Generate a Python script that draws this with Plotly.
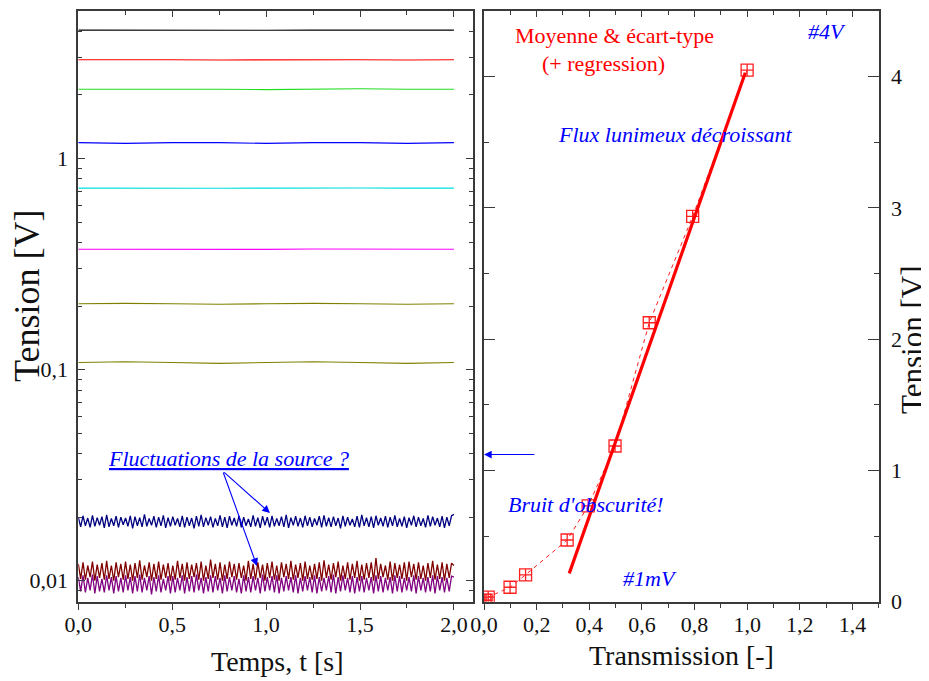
import numpy as np
import plotly.graph_objects as go

# ---------------- data ----------------
# left panel: recorded signals (V) versus time (s)
t_coarse = [0.0, 0.25, 0.5, 0.75, 1.0, 1.25, 1.5, 1.75, 2.0]
sig_black = [4.06, 4.05, 4.06, 4.06, 4.05, 4.06, 4.06, 4.05, 4.06]
sig_red = [2.94, 2.95, 2.94, 2.93, 2.94, 2.95, 2.94, 2.93, 2.94]
sig_green = [2.13, 2.13, 2.14, 2.13, 2.12, 2.13, 2.14, 2.13, 2.13]
sig_blue = [1.19, 1.18, 1.19, 1.19, 1.18, 1.19, 1.19, 1.18, 1.19]
sig_cyan = [0.724, 0.722, 0.725, 0.723, 0.724, 0.722, 0.725, 0.724, 0.724]
sig_magenta = [0.372, 0.371, 0.373, 0.372, 0.371, 0.373, 0.372, 0.371, 0.372]
sig_olive1 = [0.205, 0.206, 0.205, 0.204, 0.205, 0.206, 0.205, 0.204, 0.205]
sig_olive2 = [0.108, 0.109, 0.108, 0.107, 0.108, 0.109, 0.108, 0.107, 0.108]

# noisy low-level signals, in units of 0.1 mV
sig_navy_e4 = [
    200,180,203,182,198,179,204,181,199,183,201,178,205,180,197,182,202,179,200,184,
    198,181,203,177,201,182,199,180,206,181,197,183,202,179,200,182,204,178,199,181,
    201,183,197,180,203,179,200,182,198,177,202,181,205,180,199,183,201,179,197,182,
    204,180,200,178,202,183,198,181,203,179,200,182,196,180,204,181,199,178,202,183,
    200,179,203,181,197,182,201,180,205,178,199,183,202,181,198,179,203,182,200,180,
    197,183,202,179,204,181,199,180,201,182,198,177,203,181,200,183,196,180,202,179,
    205,182,199,180,201,178,203,183,198,181,202,179,200,182,204,180,197,181,201,178,
    199,183,203,180,200,182,197,179,204,181,201,183,198,180,202,178,200,182,203,206,
]
sig_wine_e4 = [
    120,102,122,101,118,104,123,100,119,103,121,101,124,102,118,100,122,104,120,101,
    123,102,119,100,121,103,125,101,118,104,122,100,120,102,123,101,119,103,121,100,
    118,101,124,103,120,100,122,102,119,104,121,101,123,100,118,102,126,103,120,101,
    122,100,119,102,123,104,120,101,121,103,118,100,124,102,120,101,122,103,119,100,
    121,103,123,101,118,100,122,104,120,102,124,101,119,103,121,100,123,102,118,101,
    120,102,122,100,125,103,119,101,121,104,123,100,118,102,122,101,120,103,124,100,
    119,101,121,103,122,100,128,102,120,104,118,101,123,100,121,103,119,102,122,100,
    123,104,120,101,122,102,118,100,121,103,124,101,119,102,122,100,120,103,121,118,
]
sig_purple_e4 = [
    104,89,106,88,103,90,107,87,105,89,102,88,106,90,104,87,105,89,103,88,
    106,90,104,87,105,89,107,88,103,90,105,86,104,89,106,88,102,90,105,87,
    105,88,103,90,106,87,104,89,105,88,107,90,103,87,104,89,106,88,105,90,
    103,87,106,89,104,90,105,88,102,87,106,89,104,88,105,90,103,87,107,89,
    104,90,105,88,106,87,103,89,105,90,104,88,106,87,103,89,105,90,104,88,
    106,87,104,89,103,90,105,88,107,87,104,89,106,90,103,88,105,87,104,89,
    105,88,103,90,104,87,106,89,105,88,103,90,104,87,106,89,105,88,103,90,
    104,89,106,87,105,90,103,88,104,89,106,87,105,90,104,88,103,89,105,104,
]
t_start, t_end = 0.0, 2.0

# right panel: mean tension vs transmission
transmission = [1.0, 0.793, 0.628, 0.498, 0.396, 0.316, 0.158, 0.099, 0.016, 0.008, 0.003]
tension_mean = [4.05, 2.935, 2.125, 1.186, 0.73, 0.47, 0.205, 0.11, 0.035, 0.011, 0.010]
reg_x = [0.324, 0.993]
reg_slope, reg_intercept = 5.70, -1.631

left_x_ticks = [0.0, 0.5, 1.0, 1.5, 2.0]
left_y_ticks = [0.01, 0.1, 1]
left_y_ticktext = ["0,01", "0,1", "1"]

# ---------------- figure ----------------
# the page body has an 8 px margin: the figure is drawn 8 px smaller and
# all page-pixel positions are shifted by OFF so they land where intended
OFF = 8
W, H = 929 - OFF, 681 - OFF
FONT = "Liberation Serif"
AX = "#3a3a3a"

def px(x):
    return (x - OFF) / W

def py(y):
    return 1 - (y - OFF) / H

fig = go.Figure()

upper = [
    (sig_black, "#000000"), (sig_red, "#ff0000"), (sig_green, "#22dd22"),
    (sig_blue, "#0000ff"), (sig_cyan, "#00dede"), (sig_magenta, "#ff00ff"),
    (sig_olive1, "#808000"), (sig_olive2, "#808000"),
]
for vals, col in upper:
    fig.add_trace(go.Scatter(x=t_coarse, y=vals, mode="lines",
                             line=dict(color=col, width=1.1),
                             xaxis="x", yaxis="y", showlegend=False))

for vals, col in [(sig_purple_e4, "#800080"), (sig_wine_e4, "#800000"), (sig_navy_e4, "#000080")]:
    tt = np.linspace(t_start, t_end, len(vals))
    fig.add_trace(go.Scatter(x=tt, y=np.array(vals) * 1e-4, mode="lines",
                             line=dict(color=col, width=1.3),
                             xaxis="x", yaxis="y", showlegend=False))

# right panel
fig.add_trace(go.Scatter(x=transmission, y=tension_mean, mode="lines+markers",
                         line=dict(color="#ff2020", width=1, dash="4px,4px"),
                         marker=dict(symbol="square-cross-open", size=12,
                                     color="#ff2020", line=dict(width=1.3)),
                         xaxis="x2", yaxis="y2", showlegend=False))
reg_y = [reg_slope * v + reg_intercept for v in reg_x]
fig.add_trace(go.Scatter(x=reg_x, y=reg_y, mode="lines",
                         line=dict(color="#ff0000", width=3.2),
                         xaxis="x2", yaxis="y2", showlegend=False))

# dummy traces to attach top tick axes
fig.add_trace(go.Scatter(x=[None], y=[None], xaxis="x3", yaxis="y", showlegend=False, hoverinfo="skip"))
fig.add_trace(go.Scatter(x=[None], y=[None], xaxis="x4", yaxis="y2", showlegend=False, hoverinfo="skip"))

tickfont = dict(family=FONT, size=22, color="#111")
dom_l = [px(78.3), px(472.7)]
dom_r = [px(484), px(878.7)]
dom_y = [py(601.7), py(11)]

minor_log = [m * 10.0 ** k for k in (-3, -2, -1, 0) for m in range(2, 10)]

fig.update_layout(
    width=W, height=H,
    margin=dict(l=0, r=0, t=0, b=0, autoexpand=False),
    paper_bgcolor="white", plot_bgcolor="white",
    separators=", ",
    showlegend=False,
    xaxis=dict(domain=dom_l, anchor="y", range=[0, 2.1], tickvals=left_x_ticks,
               tickformat=".1f", ticks="outside", ticklen=6, tickwidth=1.3,
               tickcolor=AX, showline=True, linecolor=AX, linewidth=1.6,
               mirror=True, showgrid=False, zeroline=False, tickfont=tickfont,
               automargin=False, ticklabelstandoff=-4,
               minor=dict(dtick=0.25, ticks="outside", ticklen=4, tickcolor=AX,
                          showgrid=False)),
    xaxis3=dict(overlaying="x", anchor="y", side="top", range=[0, 2.1],
                tickvals=left_x_ticks, ticks="inside", ticklen=6, tickwidth=1.3,
                tickcolor=AX, showticklabels=False, showline=False,
                showgrid=False, zeroline=False, automargin=False,
                minor=dict(dtick=0.25, ticks="inside", ticklen=4, tickcolor=AX,
                           showgrid=False)),
    yaxis=dict(domain=dom_y, anchor="x", type="log",
               range=[np.log10(0.00795), np.log10(5.0)],
               tickvals=left_y_ticks, ticktext=left_y_ticktext,
               ticks="inside", ticklen=7, tickwidth=1.3, tickcolor=AX,
               showline=True, linecolor=AX, linewidth=1.6, mirror="ticks",
               showgrid=False, zeroline=False, tickfont=tickfont,
               ticklabelstandoff=4, automargin=False,
               minor=dict(tickvals=minor_log, ticks="inside", ticklen=4,
                          tickcolor=AX, showgrid=False)),
    xaxis2=dict(domain=dom_r, anchor="y2", range=[0, 1.5], dtick=0.2,
                tickformat=".1f", ticks="outside", ticklen=6, tickwidth=1.3,
                tickcolor=AX, showline=True, linecolor=AX, linewidth=1.6,
                mirror=True, showgrid=False, zeroline=False, tickfont=tickfont,
                automargin=False, ticklabelstandoff=-4,
                minor=dict(dtick=0.1, ticks="outside", ticklen=4, tickcolor=AX,
                           showgrid=False)),
    xaxis4=dict(overlaying="x2", anchor="y2", side="top", range=[0, 1.5],
                dtick=0.2, ticks="inside", ticklen=6, tickwidth=1.3,
                tickcolor=AX, showticklabels=False, showline=False,
                showgrid=False, zeroline=False, automargin=False,
                minor=dict(dtick=0.1, ticks="inside", ticklen=4, tickcolor=AX,
                           showgrid=False)),
    yaxis2=dict(domain=dom_y, anchor="x2", side="right", range=[0, 4.5],
                dtick=1, tickformat="d", ticks="inside", ticklen=11,
                tickwidth=1.3, tickcolor=AX, showline=True, linecolor=AX,
                linewidth=1.6, mirror="ticks", showgrid=False, zeroline=False,
                tickfont=tickfont, ticklabelstandoff=6, automargin=False,
                minor=dict(dtick=0.5, ticks="inside", ticklen=5, tickcolor=AX,
                           showgrid=False)),
)

ann = []

def txt(text, x, y, size=22, color="blue", angle=0, italic=False):
    if italic:
        text = "<i>" + text + "</i>"
    ann.append(dict(text=text, x=px(x), y=py(y), xref="paper", yref="paper",
                    xanchor="center", yanchor="middle", showarrow=False,
                    textangle=angle, font=dict(family=FONT, size=size, color=color)))

# axis titles
txt("Tension [V]", 27, 296, size=36, color="#111", angle=-90)
txt("Temps, t [s]", 277, 661, size=28, color="#111")
txt("Transmission [-]", 681, 655, size=28, color="#111")
txt("Tension [V]", 912, 340, size=31, color="#111", angle=-90)

# annotations
txt("Moyenne &amp; écart-type", 614, 36, color="#ff0000")
txt("(+ regression)", 603, 63, color="#ff0000")
txt("#4V", 827, 32, italic=True)
txt("Flux lunimeux décroissant", 675, 134, italic=True)
txt("Bruit d'obscurité!", 586, 504, italic=True)
txt("#1mV", 650, 578, italic=True)
txt("<u>Fluctuations de la source ?</u>", 228, 459, italic=True)

# arrows (left panel, log y -> log10 coordinates)
for tip_x, tip_y in [(1.0205, 0.0209), (0.951, 0.01174)]:
    ann.append(dict(x=tip_x, y=np.log10(tip_y), ax=0.769, ay=np.log10(0.0331),
                    xref="x", yref="y", axref="x", ayref="y", showarrow=True,
                    arrowhead=2, arrowsize=1.4, arrowwidth=1.1, arrowcolor="blue",
                    text=""))
# arrow right panel
ann.append(dict(x=0.0, y=1.121, ax=0.1975, ay=1.121, xref="x2", yref="y2",
                axref="x2", ayref="y2", showarrow=True, arrowhead=2,
                arrowsize=1.4, arrowwidth=1.1, arrowcolor="blue", text=""))

fig.update_layout(annotations=ann)
fig.write_html("out.html")
